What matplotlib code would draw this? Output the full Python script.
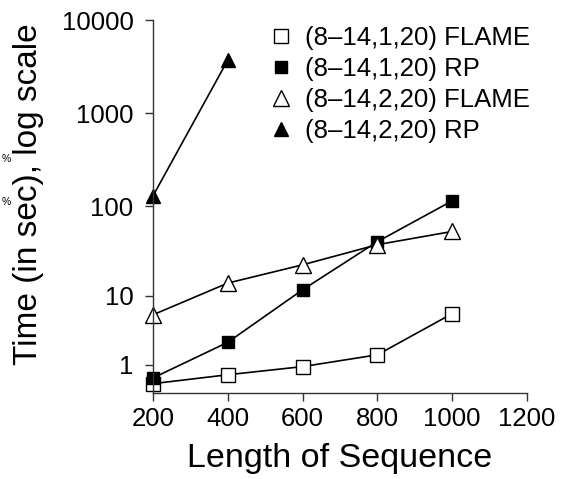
import numpy as np
import matplotlib
matplotlib.use('Agg')
import matplotlib.pyplot as plt
from matplotlib.lines import Line2D

plt.rcParams['font.family'] = ['Liberation Sans', 'DejaVu Sans']

# 実行時間（秒）
lengths = [200, 400, 600, 800, 1000]
flame_1 = [0.26, 0.57, 0.92, 1.57, 6.1]
rp_1 = [0.45, 2.5, 11.8, 41, 114]
flame_2 = [5.9, 14.1, 22.7, 38, 53]
rp_2_lengths = [200, 400]
rp_2 = [129, 3720]

labels = ['(8\u201314,1,20) FLAME', '(8\u201314,1,20) RP',
          '(8\u201314,2,20) FLAME', '(8\u201314,2,20) RP']
x_ticks = [200, 400, 600, 800, 1000, 1200]
y_ticks = [1, 10, 100, 1000, 10000]

fig = plt.figure(figsize=(5.66, 4.79), dpi=100)
ax = fig.add_axes([0.2703, 0.1795, 0.6608, 0.7787])

# log10(t+1) のスケール
ax.set_yscale('function', functions=(lambda t: np.log10(np.clip(t, 0, None) + 1),
                                     lambda v: 10 ** v - 1))

styles = [
    dict(marker='s', mfc='white', mec='black', ms=10, mew=1.0),
    dict(marker='s', mfc='black', mec='black', ms=8.5, mew=1.0),
    dict(marker='^', mfc='white', mec='black', ms=12, mew=1.0),
    dict(marker='^', mfc='black', mec='black', ms=9.5, mew=1.0),
]
series = [(lengths, flame_1), (lengths, rp_1), (lengths, flame_2), (rp_2_lengths, rp_2)]

for (xs, ys), st in zip(series, styles):
    ax.plot(xs, ys, color='black', lw=1.2, clip_on=False, **st)

ax.set_xlim(200, 1200)
ax.set_ylim(0, 10000)
ax.set_xticks(x_ticks)
ax.set_xticklabels([str(v) for v in x_ticks])
ax.set_yticks(y_ticks)
ax.set_yticklabels([str(v) for v in y_ticks])
ax.yaxis.set_minor_locator(matplotlib.ticker.NullLocator())

for s in ['top', 'right']:
    ax.spines[s].set_visible(False)
for s in ['left', 'bottom']:
    ax.spines[s].set_linewidth(1.0)
    ax.spines[s].set_color('#333333')

ax.tick_params(axis='both', direction='out', length=6, width=1.0, color='#333333',
               labelsize=18.5)
ax.tick_params(axis='y', pad=8)
ax.tick_params(axis='x', pad=4)

ax.set_xlabel('Length of Sequence', fontsize=24.5)
ax.set_ylabel('Time (in sec), log scale', fontsize=24)
ax.xaxis.set_label_coords(0.5, -0.135)
ax.yaxis.set_label_coords(-0.292, 0.534)

handles = [Line2D([], [], ls='none', **st) for st in styles]
ax.legend(handles, labels, loc='upper left', bbox_to_anchor=(0.4735, 0.945),
          bbox_transform=fig.transFigure, frameon=False, fontsize=18.5,
          handlelength=1.0, handletextpad=0.45, labelspacing=0.27,
          borderpad=0, borderaxespad=0, numpoints=1)

# 左端の小さな記号
fig.text(6 / 566, 1 - 159 / 479, '%', fontsize=7.5, ha='center', va='center')
fig.text(6 / 566, 1 - 202 / 479, '%', fontsize=7.5, ha='center', va='center')

fig.savefig('out.png', dpi=100)
